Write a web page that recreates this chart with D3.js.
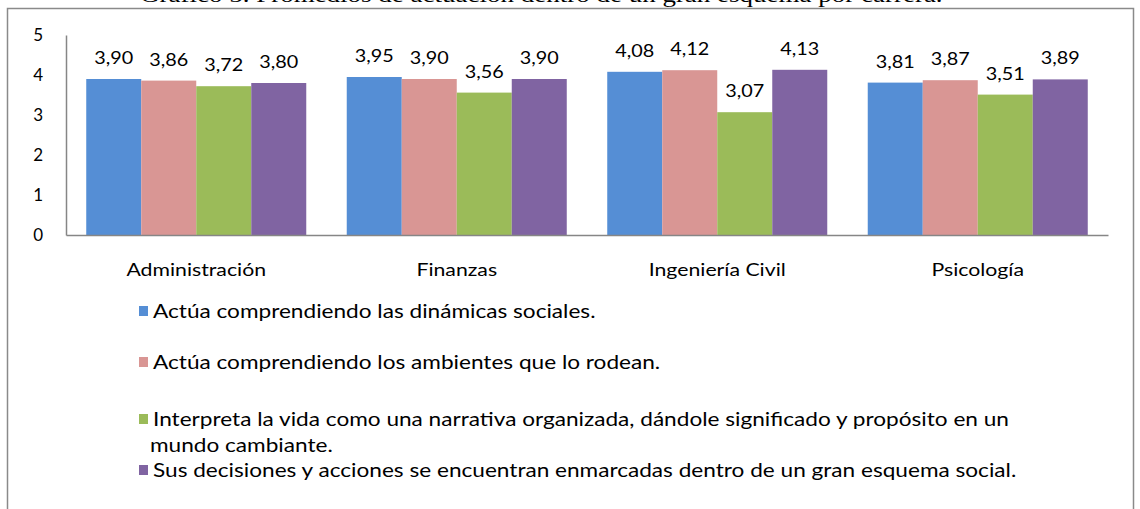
<!DOCTYPE html>
<html><head><meta charset="utf-8">
<script src="https://cdn.jsdelivr.net/npm/d3@7"></script>
<style>body{margin:0;background:#fff;overflow:hidden}svg{display:block}</style>
</head><body>
<script>
const categories = ["Administración", "Finanzas", "Ingeniería Civil", "Psicología"];
const seriesNames = [
  "Actúa comprendiendo  las dinámicas sociales.",
  "Actúa comprendiendo  los ambientes que lo rodean.",
  "Interpreta la vida como una narrativa organizada, dándole significado y propósito en un",
  "Sus decisiones y acciones se encuentran enmarcadas dentro de un gran esquema social."
];
const legendContinuation = ["", "", "mundo cambiante.", ""];
const seriesDinamicas = [3.90, 3.95, 4.08, 3.81];
const seriesAmbientes = [3.86, 3.90, 4.12, 3.87];
const seriesNarrativa = [3.72, 3.56, 3.07, 3.51];
const seriesEsquema   = [3.80, 3.90, 4.13, 3.89];
const yTicks = [0, 1, 2, 3, 4, 5];
const colors = ["#558ed5", "#d99694", "#9bbb59", "#8064a2"];
const titleText = "Gráfico 5. Promedios de actuación dentro de un gran esquema por carrera.";

const allSeries = [seriesDinamicas, seriesAmbientes, seriesNarrativa, seriesEsquema];
const W = 1140, H = 509;
const FONT = "Lato, 'Open Sans', sans-serif";

const svg = d3.select("body").append("svg").attr("width", W).attr("height", H);

// stretched text helper (reference glyphs are horizontally wide)
function stext(parent, x, yy, str, size, sx, anchor) {
  return parent.append("text")
    .attr("transform", `translate(${x},${yy}) scale(${sx},1)`)
    .attr("text-anchor", anchor || "start")
    .attr("font-family", FONT).attr("font-size", size).attr("fill", "#000").text(str);
}

// clipped title at top (only its lower edge shows above the frame)
svg.append("text")
  .attr("transform", "translate(140,2) scale(1.35,1)")
  .attr("font-family", "'Liberation Serif', serif").attr("font-size", 20)
  .attr("fill", "#000").text(titleText);
svg.append("rect").attr("x", 0).attr("y", 8).attr("width", W).attr("height", H)
  .attr("fill", "#fff");

// frame
svg.append("rect").attr("x", 7.5).attr("y", 8.5).attr("width", 1126).attr("height", 620)
  .attr("fill", "none").attr("stroke", "#8a8a8a").attr("stroke-width", 1.5);

const plot = {left: 66, right: 1108, top: 35, bottom: 235};
const x0 = d3.scaleBand().domain(categories).range([plot.left, plot.right]).padding(0);
const x1 = d3.scaleBand().domain(d3.range(allSeries.length))
  .range([x0.bandwidth() * 0.0777, x0.bandwidth() * (1 - 0.0777)]).padding(0);
const y = d3.scaleLinear().domain([0, 5]).range([plot.bottom, plot.top]);

// bars
categories.forEach((c, ci) => {
  const g = svg.append("g").attr("transform", `translate(${x0(c)},0)`);
  allSeries.forEach((s, si) => {
    g.append("rect").attr("x", x1(si)).attr("y", y(s[ci]))
      .attr("width", x1.bandwidth()).attr("height", y(0) - y(s[ci]))
      .attr("fill", colors[si]);
    stext(g, x1(si) + x1.bandwidth() / 2, y(s[ci]) - 15,
      d3.format(".2f")(s[ci]).replace(".", ","), 18, 1.1, "middle");
  });
});

// y axis
const yAxis = svg.append("g").attr("transform", `translate(${plot.left},0)`)
  .call(d3.axisLeft(y).tickValues(yTicks).tickSize(0).tickPadding(23).tickFormat(d3.format("d")));
yAxis.select(".domain").attr("stroke", "#868686").attr("stroke-width", 1.5);
yAxis.selectAll("text").attr("font-family", FONT).attr("font-size", 17).attr("fill", "#000");

// x axis
const xAxis = svg.append("g").attr("transform", `translate(0,${plot.bottom})`)
  .call(d3.axisBottom(x0).tickSize(0).tickPadding(0).tickFormat(() => ""));
xAxis.select(".domain").attr("stroke", "#868686").attr("stroke-width", 1.5);
xAxis.selectAll(".tick").each(function(d) {
  stext(d3.select(this), 0, 41, d, 17, 1.25, "middle");
});

// legend
const legendRows = [318, 369, 426, 477];
const lg = svg.append("g");
seriesNames.forEach((n, i) => {
  lg.append("rect").attr("x", 139).attr("y", legendRows[i] - 12).attr("width", 9).attr("height", 10)
    .attr("fill", colors[i]);
  stext(lg, 153, legendRows[i], n, 19, 1.19);
  if (legendContinuation[i]) {
    stext(lg, 150, legendRows[i] + 26, legendContinuation[i], 19, 1.19);
  }
});
</script>
</body></html>
